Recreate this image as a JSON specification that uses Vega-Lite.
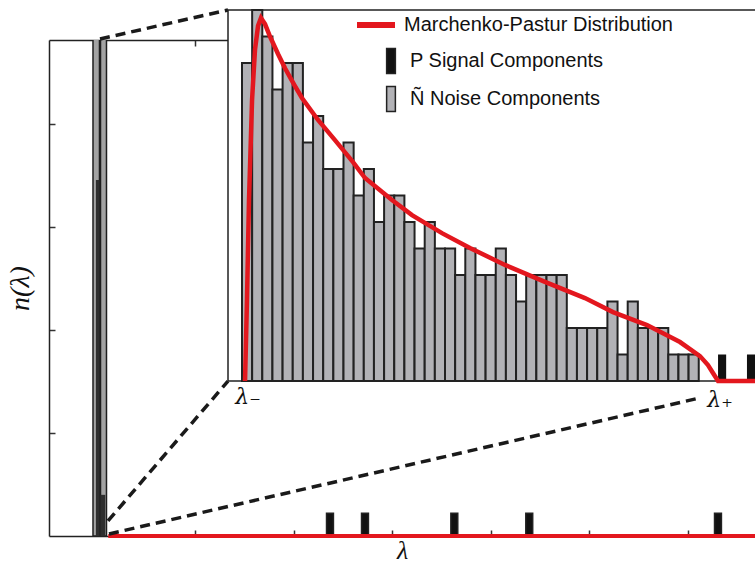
{
  "$schema": "https://vega.github.io/schema/vega-lite/v6.json",
  "width": 706,
  "height": 496,
  "padding": {"left": 49, "top": 40, "right": 0, "bottom": 30},
  "autosize": {"type": "none"},
  "background": "white",
  "config": {"view": {"stroke": null}, "font": "Liberation Sans"},
  "resolve": {"scale": {"x": "independent", "y": "independent"}},
  "layer": [
    {
      "resolve": {"axis": {"x": "independent"}},
      "layer": [
        {
          "data": {"values": [
            {"v0": -0.0345, "v1": 0.0314, "n": 60},
            {"v0": 0.0416, "v1": 0.1024, "n": 60}
          ]},
          "mark": {"type": "bar", "clip": true, "fill": "#a3a3a3", "stroke": "#1e1e1e", "strokeWidth": 1.5},
          "encoding": {
            "x": {"field": "v0", "type": "quantitative", "scale": {"domain": [-0.4807, 6.6795], "nice": false, "zero": false},
              "axis": {"orient": "bottom", "values": [1, 2, 3, 4, 5, 6], "labels": false, "grid": false, "tickSize": -6, "tickColor": "#333", "tickWidth": 1.5, "domainColor": "#222", "domainWidth": 1.5, "title": "λ", "titleFont": "Liberation Serif", "titleFontStyle": "italic", "titleFontWeight": "normal", "titleFontSize": 26, "titleColor": "#111", "titlePadding": 1}},
            "x2": {"field": "v1"},
            "y": {"field": "n", "type": "quantitative", "scale": {"domain": [0, 24.1], "nice": false, "zero": false},
              "axis": {"orient": "left", "values": [5, 10, 15, 20], "labels": false, "grid": false, "tickSize": -6, "tickColor": "#333", "tickWidth": 1.5, "domainColor": "#222", "domainWidth": 1.5, "title": "n(λ)", "titleFont": "Liberation Serif", "titleFontStyle": "italic", "titleFontWeight": "normal", "titleFontSize": 28, "titleColor": "#111", "titlePadding": 14}},
            "y2": {"datum": 0}
          }
        },
        {
          "data": {"values": [
            {"v0": -0.005, "v1": 0.0314, "n": 17.3},
            {"v0": 0.0416, "v1": 0.09, "n": 2.0}
          ]},
          "mark": {"type": "bar", "clip": true, "fill": "#2e2e2e"},
          "encoding": {
            "x": {"field": "v0", "type": "quantitative", "scale": {"domain": [-0.4807, 6.6795], "nice": false, "zero": false}, "axis": null},
            "x2": {"field": "v1"},
            "y": {"field": "n", "type": "quantitative", "scale": {"domain": [0, 24.1], "nice": false, "zero": false},
              "axis": {"orient": "left", "values": [5, 10, 15, 20], "labels": false, "grid": false, "tickSize": -6, "tickColor": "#333", "tickWidth": 1.5, "domainColor": "#222", "domainWidth": 1.5, "title": "n(λ)", "titleFont": "Liberation Serif", "titleFontStyle": "italic", "titleFontWeight": "normal", "titleFontSize": 28, "titleColor": "#111", "titlePadding": 14}},
            "y2": {"datum": 0}
          }
        },
        {
          "data": {"values": [
            {"v0": 2.334, "v1": 2.404, "n": 1.1, "kind": "P Signal Components"},
            {"v0": 2.689, "v1": 2.759, "n": 1.1, "kind": "P Signal Components"},
            {"v0": 3.595, "v1": 3.665, "n": 1.1, "kind": "P Signal Components"},
            {"v0": 4.355, "v1": 4.425, "n": 1.1, "kind": "P Signal Components"},
            {"v0": 6.269, "v1": 6.339, "n": 1.1, "kind": "P Signal Components"}
          ]},
          "mark": {"type": "bar", "stroke": "#222", "strokeWidth": 1.5},
          "encoding": {
            "x": {"field": "v0", "type": "quantitative", "scale": {"domain": [-0.4807, 6.6795], "nice": false, "zero": false}, "axis": null},
            "x2": {"field": "v1"},
            "y": {"field": "n", "type": "quantitative", "scale": {"domain": [0, 24.1], "nice": false, "zero": false},
              "axis": {"orient": "left", "values": [5, 10, 15, 20], "labels": false, "grid": false, "tickSize": -6, "tickColor": "#333", "tickWidth": 1.5, "domainColor": "#222", "domainWidth": 1.5, "title": "n(λ)", "titleFont": "Liberation Serif", "titleFontStyle": "italic", "titleFontWeight": "normal", "titleFontSize": 28, "titleColor": "#111", "titlePadding": 14}},
            "y2": {"datum": 0},
            "fill": {"field": "kind", "type": "nominal", "scale": {"domain": ["P Signal Components", "Ñ Noise Components"], "range": ["#111111", "#b2b2b6"]},
              "legend": {"orient": "none", "legendX": 328.5, "legendY": 7.5, "title": null, "padding": 0, "symbolType": "M-0.35,-1H0.35V1H-0.35Z", "symbolSize": 625, "symbolStrokeColor": "#222", "symbolStrokeWidth": 1.5, "labelFont": "Liberation Sans", "labelFontSize": 20, "labelColor": "#111", "labelOffset": 5.5, "rowPadding": 7, "labelLimit": 400}}
          }
        },
        {
          "data": {"values": [
            {"v": 0.12, "n": 0},
            {"v": 6.9, "n": 0}
          ]},
          "mark": {"type": "line", "color": "#e3171e", "strokeWidth": 4},
          "encoding": {
            "x": {"field": "v", "type": "quantitative", "scale": {"domain": [-0.4807, 6.6795], "nice": false, "zero": false},
              "axis": {"orient": "top", "values": [1, 2, 3, 4, 5, 6], "labels": false, "grid": false, "tickSize": -6, "tickColor": "#333", "tickWidth": 1.5, "domainColor": "#222", "domainWidth": 1.5, "title": null}},
            "y": {"field": "n", "type": "quantitative", "scale": {"domain": [0, 24.1], "nice": false, "zero": false},
              "axis": {"orient": "left", "values": [5, 10, 15, 20], "labels": false, "grid": false, "tickSize": -6, "tickColor": "#333", "tickWidth": 1.5, "domainColor": "#222", "domainWidth": 1.5, "title": "n(λ)", "titleFont": "Liberation Serif", "titleFontStyle": "italic", "titleFontWeight": "normal", "titleFontSize": 28, "titleColor": "#111", "titlePadding": 14}}
          }
        },
        {
          "data": {"values": [
            {"seg": "a", "v": 0.0365, "n": 24.15},
            {"seg": "a", "v": 1.3347, "n": 25.56},
            {"seg": "b", "v": 0.1176, "n": 0.73},
            {"seg": "b", "v": 1.3347, "n": 7.53},
            {"seg": "c", "v": 0.1278, "n": 0.1},
            {"seg": "c", "v": 6.122, "n": 6.71}
          ]},
          "mark": {"type": "line", "color": "#1a1a1a", "strokeWidth": 3.5, "strokeDash": [10, 6]},
          "encoding": {
            "x": {"field": "v", "type": "quantitative", "scale": {"domain": [-0.4807, 6.6795], "nice": false, "zero": false}, "axis": null},
            "y": {"field": "n", "type": "quantitative", "scale": {"domain": [0, 24.1], "nice": false, "zero": false},
              "axis": {"orient": "left", "values": [5, 10, 15, 20], "labels": false, "grid": false, "tickSize": -6, "tickColor": "#333", "tickWidth": 1.5, "domainColor": "#222", "domainWidth": 1.5, "title": "n(λ)", "titleFont": "Liberation Serif", "titleFontStyle": "italic", "titleFontWeight": "normal", "titleFontSize": 28, "titleColor": "#111", "titlePadding": 14}},
            "detail": {"field": "seg", "type": "nominal"}
          }
        }
      ]
    },
    {
      "layer": [
        {
          "data": {"values": [{}]},
          "mark": {"type": "rect", "fill": "white", "stroke": "#222", "strokeWidth": 1.5},
          "encoding": {
            "x": {"datum": -1.379, "type": "quantitative", "scale": {"domain": [-19.015, 50.542], "nice": false, "zero": false}, "axis": null},
            "x2": {"datum": 53},
            "y": {"datum": 0, "type": "quantitative", "scale": {"domain": [-5.849, 12.868], "nice": false, "zero": false}, "axis": null},
            "y2": {"datum": 14}
          }
        },
        {
          "data": {"values": [
            {"lo": 0, "count": 12}, {"lo": 1, "count": 14}, {"lo": 2, "count": 13}, {"lo": 3, "count": 11},
            {"lo": 4, "count": 12}, {"lo": 5, "count": 12}, {"lo": 6, "count": 9}, {"lo": 7, "count": 10},
            {"lo": 8, "count": 8}, {"lo": 9, "count": 8}, {"lo": 10, "count": 9}, {"lo": 11, "count": 7},
            {"lo": 12, "count": 8}, {"lo": 13, "count": 6}, {"lo": 14, "count": 7}, {"lo": 15, "count": 7},
            {"lo": 16, "count": 6}, {"lo": 17, "count": 5}, {"lo": 18, "count": 6}, {"lo": 19, "count": 5},
            {"lo": 20, "count": 5}, {"lo": 21, "count": 4}, {"lo": 22, "count": 5}, {"lo": 23, "count": 4},
            {"lo": 24, "count": 4}, {"lo": 25, "count": 5}, {"lo": 26, "count": 4}, {"lo": 27, "count": 3},
            {"lo": 28, "count": 4}, {"lo": 29, "count": 4}, {"lo": 30, "count": 4}, {"lo": 31, "count": 4},
            {"lo": 32, "count": 2}, {"lo": 33, "count": 2}, {"lo": 34, "count": 2}, {"lo": 35, "count": 2},
            {"lo": 36, "count": 3}, {"lo": 37, "count": 1}, {"lo": 38, "count": 3}, {"lo": 39, "count": 2},
            {"lo": 40, "count": 2}, {"lo": 41, "count": 2}, {"lo": 42, "count": 1}, {"lo": 43, "count": 1},
            {"lo": 44, "count": 1}
          ]},
          "transform": [{"calculate": "datum.lo + 1", "as": "hi"}, {"calculate": "'Ñ Noise Components'", "as": "kind"}],
          "mark": {"type": "bar", "stroke": "#222", "strokeWidth": 2},
          "encoding": {
            "x": {"field": "lo", "type": "quantitative", "scale": {"domain": [-19.015, 50.542], "nice": false, "zero": false}, "axis": null},
            "x2": {"field": "hi"},
            "y": {"field": "count", "type": "quantitative", "scale": {"domain": [-5.849, 12.868], "nice": false, "zero": false}, "axis": null},
            "y2": {"datum": 0},
            "fill": {"field": "kind", "type": "nominal"}
          }
        },
        {
          "data": {"values": [
            {"lo": 46.9, "hi": 47.7, "count": 1, "kind": "P Signal Components"},
            {"lo": 49.75, "hi": 50.8, "count": 1, "kind": "P Signal Components"}
          ]},
          "mark": {"type": "bar"},
          "encoding": {
            "x": {"field": "lo", "type": "quantitative", "scale": {"domain": [-19.015, 50.542], "nice": false, "zero": false}, "axis": null},
            "x2": {"field": "hi"},
            "y": {"field": "count", "type": "quantitative", "scale": {"domain": [-5.849, 12.868], "nice": false, "zero": false}, "axis": null},
            "y2": {"datum": 0},
            "fill": {"field": "kind", "type": "nominal"}
          }
        },
        {
          "data": {"values": [
            {"u": 0.30, "c": 0}, {"u": 0.49, "c": 3.06}, {"u": 0.69, "c": 6.85}, {"u": 0.99, "c": 10.6},
            {"u": 1.28, "c": 12.5}, {"u": 1.58, "c": 13.4}, {"u": 1.87, "c": 13.7}, {"u": 2.27, "c": 13.47},
            {"u": 2.76, "c": 13.0}, {"u": 3.55, "c": 12.34}, {"u": 4.24, "c": 11.8}, {"u": 5.22, "c": 11.13},
            {"u": 5.91, "c": 10.68}, {"u": 7.49, "c": 9.85}, {"u": 9.16, "c": 9.09}, {"u": 10.94, "c": 8.26},
            {"u": 12.12, "c": 7.66}, {"u": 14.78, "c": 6.83}, {"u": 16.75, "c": 6.26}, {"u": 19.70, "c": 5.58},
            {"u": 22.46, "c": 5.02}, {"u": 25.91, "c": 4.38}, {"u": 29.85, "c": 3.74}, {"u": 33.79, "c": 3.13},
            {"u": 36.55, "c": 2.6}, {"u": 39.90, "c": 2.11}, {"u": 43.15, "c": 1.47}, {"u": 45.12, "c": 0.94},
            {"u": 45.91, "c": 0.6}, {"u": 46.40, "c": 0.30}, {"u": 46.90, "c": 0}, {"u": 52, "c": 0}
          ]},
          "transform": [{"calculate": "'Marchenko-Pastur Distribution'", "as": "kind"}],
          "mark": {"type": "line", "strokeWidth": 4.5},
          "encoding": {
            "x": {"field": "u", "type": "quantitative", "scale": {"domain": [-19.015, 50.542], "nice": false, "zero": false}, "axis": null},
            "y": {"field": "c", "type": "quantitative", "scale": {"domain": [-5.849, 12.868], "nice": false, "zero": false}, "axis": null},
            "stroke": {"field": "kind", "type": "nominal", "scale": {"domain": ["Marchenko-Pastur Distribution"], "range": ["#e3171e"]},
              "legend": {"orient": "none", "legendX": 305, "legendY": -37, "title": null, "padding": 0, "symbolType": "stroke", "symbolSize": 1444, "symbolStrokeWidth": 6, "labelFont": "Liberation Sans", "labelFontSize": 20, "labelColor": "#111", "labelOffset": 6, "labelLimit": 400}}
          }
        },
        {
          "data": {"values": [
            {"label": "λ₋", "u": 0.59, "c": -0.6},
            {"label": "λ₊", "u": 47.1, "c": -0.72}
          ]},
          "mark": {"type": "text", "font": "DejaVu Serif", "fontStyle": "italic", "fontSize": 22, "color": "#111", "align": "center", "baseline": "middle"},
          "encoding": {
            "x": {"field": "u", "type": "quantitative", "scale": {"domain": [-19.015, 50.542], "nice": false, "zero": false}, "axis": null},
            "y": {"field": "c", "type": "quantitative", "scale": {"domain": [-5.849, 12.868], "nice": false, "zero": false}, "axis": null},
            "text": {"field": "label"}
          }
        }
      ]
    }
  ]
}
